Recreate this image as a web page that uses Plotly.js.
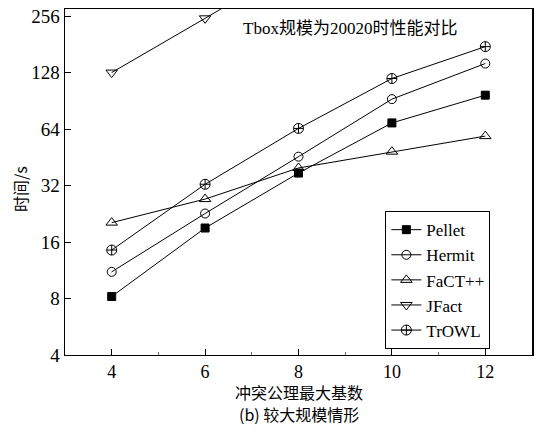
<!DOCTYPE html>
<html>
<head>
<meta charset="utf-8">
<script src="https://cdn.plot.ly/plotly-3.0.1.min.js"></script>
<style>html,body{margin:0;padding:0;background:#fff;}#chart{width:554px;height:439px;}</style>
</head>
<body>
<div id="chart"></div>
<script>
const xCats = [4, 6, 8, 10, 12];
const pellet = [8.2, 19.0, 37.3, 69, 97];
const hermit = [11.1, 22.7, 45.6, 92.4, 143];
const fact = [20.3, 27.1, 39.7, 48.5, 58.7];
const jfact = [128, 249, 490, null, null];
const trowl = [14.5, 32.5, 64.5, 119, 176];
const seriesNames = ['Pellet', 'Hermit', 'FaCT++', 'JFact', 'TrOWL'];
const yTicks = [4, 8, 16, 32, 64, 128, 256];
const chartTitle = 'Tbox规模为20020时性能对比';
const xTitle = '冲突公理最大基数';
const yTitle = '时间/s';
const caption = '(b) 较大规模情形';

const FONT = 'Liberation Serif, DejaVu Serif, Noto Sans CJK SC, serif';
const CJK = 'Noto Sans CJK SC, Liberation Serif, serif';
const allSeries = [pellet, hermit, fact, jfact, trowl];
const symbols = ['square', 'circle-open', 'triangle-up-open', 'triangle-down-open', 'circle-cross-open'];
const sizes = [8, 9, 10, 10, 10];

const traces = allSeries.map((ys, i) => ({
  x: xCats, y: ys, name: seriesNames[i], type: 'scatter', mode: 'lines+markers',
  line: {color: '#000', width: 1},
  marker: {symbol: symbols[i], size: sizes[i], color: '#000', line: {color: '#000', width: 1}},
  cliponaxis: true
}));

const layout = {
  width: 554, height: 439,
  margin: {l: 65, r: 22, t: 9, b: 84},
  paper_bgcolor: '#fff', plot_bgcolor: '#fff',
  font: {family: FONT, color: '#000', size: 17},
  showlegend: true,
  legend: {x: 0.686, y: 0.017, xanchor: 'left', yanchor: 'bottom', bordercolor: '#000', borderwidth: 1,
    bgcolor: '#fff', font: {family: FONT, size: 17}, tracegroupgap: 0, itemwidth: 30},
  xaxis: {range: [3, 13], tickvals: xCats, ticks: 'inside', ticklen: 6, tickcolor: '#000',
    showline: true, linecolor: '#000', linewidth: 1, mirror: true, showgrid: false, zeroline: false,
    tickfont: {family: FONT, size: 18},
    minor: {dtick: 1, ticks: 'inside', ticklen: 3, tickcolor: '#666'}},
  yaxis: {type: 'log', range: [Math.log10(4), 2.446], tickvals: yTicks, ticktext: yTicks.map(String),
    ticks: 'inside', ticklen: 6, tickcolor: '#000',
    showline: true, linecolor: '#000', linewidth: 1.5, mirror: true, showgrid: false, zeroline: false,
    tickfont: {family: FONT, size: 19}},
  annotations: [
    {text: chartTitle, xref: 'paper', yref: 'paper', x: 0.61, y: 0.945, xanchor: 'center', yanchor: 'middle',
     showarrow: false, font: {family: FONT, size: 17}},
    {text: xTitle, xref: 'paper', yref: 'paper', x: 0.5, y: -0.106, xanchor: 'center', yanchor: 'middle',
     showarrow: false, font: {family: CJK, size: 16}},
    {text: yTitle, xref: 'paper', yref: 'paper', x: -0.096, y: 0.48, xanchor: 'center', yanchor: 'middle',
     textangle: -90, showarrow: false, font: {family: CJK, size: 16}},
    {text: caption, xref: 'paper', yref: 'paper', x: 0.5, y: -0.17, xanchor: 'center', yanchor: 'middle',
     showarrow: false, font: {family: CJK, size: 16}}
  ]
};

Plotly.newPlot('chart', traces, layout, {displayModeBar: false, staticPlot: true});
</script>
</body>
</html>
